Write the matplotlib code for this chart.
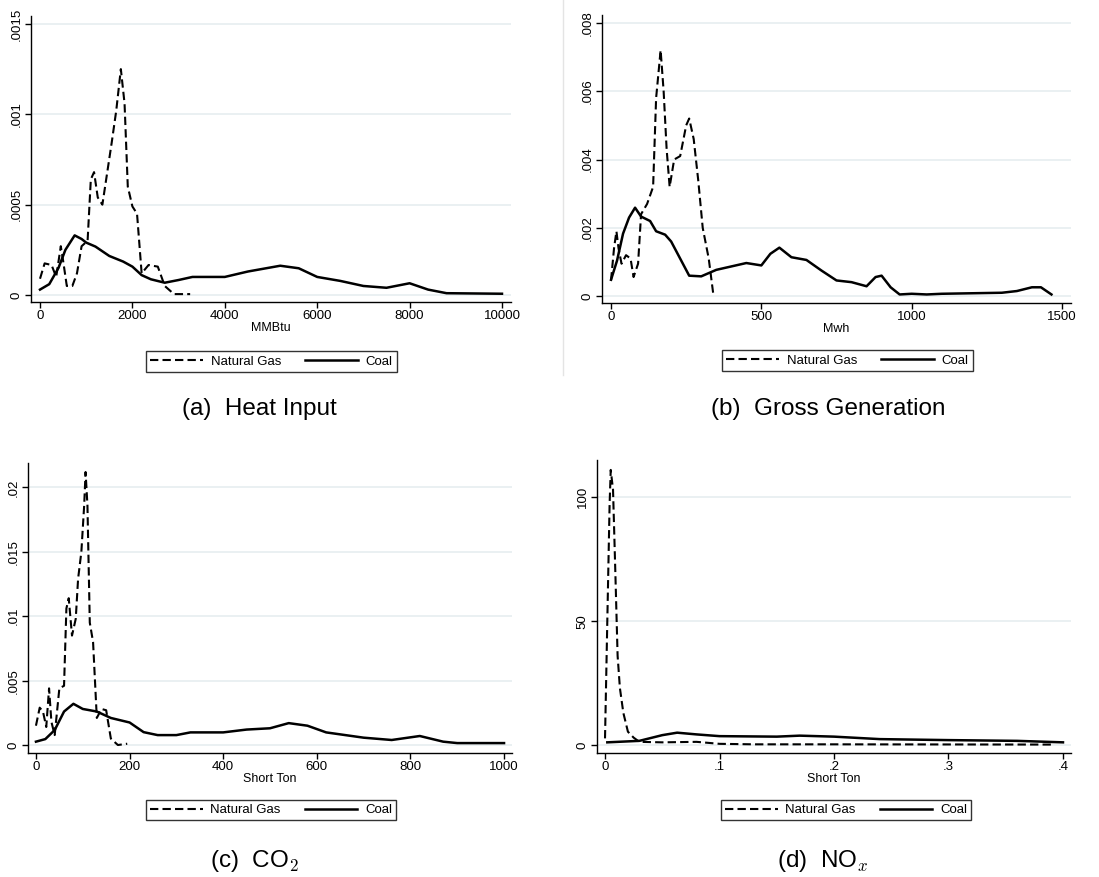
import numpy as np
import matplotlib.pyplot as plt
from matplotlib.lines import Line2D

# (a) Heat Input, MMBtu
heat_gas_x = [0, 100, 250, 350, 450, 500, 580, 700, 800, 900, 1030, 1100, 1170, 1250, 1350,
              1450, 1550, 1650, 1750, 1830, 1900, 2000, 2100, 2200, 2350, 2550, 2700, 2900, 3250]
heat_gas_y = [0.00009, 0.000175, 0.000166, 0.0001, 0.00027, 0.00019, 0.00005, 0.00005, 0.00012,
              0.00027, 0.0003, 0.00064, 0.00068, 0.00054, 0.0005, 0.00067, 0.00084, 0.00102,
              0.00125, 0.00106, 0.0006, 0.00049, 0.00045, 0.00012, 0.000166, 0.000157, 0.00005,
              0.000005, 0.000005]
heat_coal_x = [0, 200, 400, 550, 750, 900, 1000, 1200, 1500, 1800, 2000, 2200, 2400, 2700, 3000,
               3300, 4000, 4500, 5200, 5600, 6000, 6500, 7000, 7500, 8000, 8400, 8800, 10000]
heat_coal_y = [0.00003, 0.00006, 0.00015, 0.00025, 0.00033, 0.00031, 0.00029, 0.000268, 0.000216,
               0.000185, 0.000157, 0.00011, 0.000087, 0.000068, 0.000083, 0.0001, 0.0001, 0.00013,
               0.000162, 0.000148, 0.0001, 0.000078, 0.00005, 0.00004, 0.000065, 0.00003,
               0.00001, 0.000007]

# (b) Gross Generation, Mwh
gen_gas_x = [0, 10, 18, 25, 35, 50, 65, 75, 90, 100, 120, 140, 150, 165, 175, 185, 195, 210,
             230, 250, 260, 275, 290, 305, 325, 340]
gen_gas_y = [0.00046, 0.0014, 0.0019, 0.0014, 0.00095, 0.0012, 0.0011, 0.00056, 0.00095, 0.0024,
             0.0027, 0.0032, 0.0058, 0.0072, 0.006, 0.0043, 0.0032, 0.004, 0.0041, 0.005, 0.0052,
             0.0046, 0.0034, 0.002, 0.0011, 0.00007]
gen_coal_x = [0, 20, 40, 60, 80, 100, 130, 150, 180, 200, 230, 260, 300, 350, 400, 450, 500,
              530, 560, 600, 650, 700, 750, 800, 850, 880, 900, 930, 960, 1000, 1050, 1100,
              1300, 1350, 1400, 1430, 1465]
gen_coal_y = [0.00048, 0.00104, 0.00183, 0.0023, 0.00259, 0.00233, 0.0022, 0.0019, 0.0018,
              0.0016, 0.0011, 0.0006, 0.00058, 0.00077, 0.00087, 0.00097, 0.0009, 0.00124,
              0.00142, 0.00114, 0.00106, 0.00075, 0.00046, 0.00041, 0.00029, 0.00056, 0.0006,
              0.00026, 0.00005, 0.00007, 0.00005, 0.00007, 0.0001, 0.00015, 0.00026, 0.00026,
              0.00005]

# (c) CO2, Short Ton
co2_gas_x = [0, 8, 15, 22, 28, 33, 40, 50, 60, 65, 70, 77, 85, 90, 97, 103, 106, 110, 115,
             122, 130, 140, 150, 160, 175, 195]
co2_gas_y = [0.0015, 0.0029, 0.0026, 0.0014, 0.0044, 0.0018, 0.00077, 0.0044, 0.0046, 0.0106,
             0.0114, 0.0085, 0.0098, 0.0129, 0.015, 0.0186, 0.0212, 0.0186, 0.0095, 0.008,
             0.0021, 0.0028, 0.0027, 0.0005, 0.0, 0.0001]
co2_coal_x = [0, 20, 40, 60, 80, 100, 130, 160, 200, 230, 260, 300, 330, 400, 450, 500, 540,
              580, 620, 700, 760, 820, 870, 900, 1000]
co2_coal_y = [0.00026, 0.00046, 0.00116, 0.0026, 0.0032, 0.0028, 0.0026, 0.0021, 0.00175, 0.001,
              0.00077, 0.00077, 0.00098, 0.00098, 0.0012, 0.0013, 0.0017, 0.0015, 0.00098,
              0.00057, 0.00039, 0.0007, 0.00026, 0.00015, 0.00015]

# (d) NOx, Short Ton
nox_gas_x = [0, 0.002, 0.004, 0.005, 0.007, 0.009, 0.011, 0.013, 0.016, 0.02, 0.025, 0.03,
             0.05, 0.08, 0.1, 0.13, 0.2, 0.39]
nox_gas_y = [2.7, 50, 97, 111, 103, 70, 36, 23, 13, 5.4, 3, 1.3, 1.1, 1.3, 0.5, 0.3, 0.3, 0.2]
nox_coal_x = [0.002, 0.03, 0.05, 0.063, 0.08, 0.1, 0.15, 0.17, 0.2, 0.24, 0.3, 0.36, 0.4]
nox_coal_y = [1.1, 1.7, 4, 5, 4.3, 3.6, 3.4, 3.8, 3.4, 2.4, 2.0, 1.7, 1.1]

W, H = 1099, 877
fig = plt.figure(figsize=(W / 100, H / 100), dpi=100)
plt.rcParams['font.family'] = ['Liberation Sans', 'DejaVu Sans']
plt.rcParams['mathtext.fontset'] = 'cm'

grid_col = '#e6eef0'
lw = 1.5


def px(x, y):
    return x / W, 1 - y / H


panels = [
    dict(rect=(31, 16, 511, 302), gas=(heat_gas_x, heat_gas_y), coal=(heat_coal_x, heat_coal_y),
         xlim=(-195, 10195), ylim=(-0.0000387, 0.001544),
         xticks=[0, 2000, 4000, 6000, 8000, 10000], xtl=['0', '2000', '4000', '6000', '8000', '10000'],
         yticks=[0, 0.0005, 0.001, 0.0015], ytl=['0', '.0005', '.001', '.0015'],
         xlabel='MMBtu', leg=(271.5, 361.5), cap=(259, 415), captxt='(a)  Heat Input'),
    dict(rect=(602, 15, 1071, 303), gas=(gen_gas_x, gen_gas_y), coal=(gen_coal_x, gen_coal_y),
         xlim=(-30, 1530), ylim=(-0.0002, 0.00823),
         xticks=[0, 500, 1000, 1500], xtl=['0', '500', '1000', '1500'],
         yticks=[0, 0.002, 0.004, 0.006, 0.008], ytl=['0', '.002', '.004', '.006', '.008'],
         xlabel='Mwh', leg=(847.5, 360.5), cap=(828, 415), captxt='(b)  Gross Generation'),
    dict(rect=(28, 463, 512, 753), gas=(co2_gas_x, co2_gas_y), coal=(co2_coal_x, co2_coal_y),
         xlim=(-17, 1017), ylim=(-0.00062, 0.0219),
         xticks=[0, 200, 400, 600, 800, 1000], xtl=['0', '200', '400', '600', '800', '1000'],
         yticks=[0, 0.005, 0.01, 0.015, 0.02], ytl=['0', '.005', '.01', '.015', '.02'],
         xlabel='Short Ton', leg=(271, 810), cap=(254, 867), captxt='(c)  CO$_2$'),
    dict(rect=(597, 460, 1071, 753), gas=(nox_gas_x, nox_gas_y), coal=(nox_coal_x, nox_coal_y),
         xlim=(-0.007, 0.407), ylim=(-3.2, 115),
         xticks=[0, 0.1, 0.2, 0.3, 0.4], xtl=['0', '.1', '.2', '.3', '.4'],
         yticks=[0, 50, 100], ytl=['0', '50', '100'],
         xlabel='Short Ton', leg=(846, 810), cap=(823, 867), captxt='(d)  NO$_x$'),
]

for p in panels:
    x0, y0, x1, y1 = p['rect']
    ax = fig.add_axes([x0 / W, 1 - y1 / H, (x1 - x0) / W, (y1 - y0) / H])
    ax.plot(p['gas'][0], p['gas'][1], color='black', lw=lw, ls=(0, (4, 2)), label='Natural Gas')
    ax.plot(p['coal'][0], p['coal'][1], color='black', lw=lw + 0.3, ls='-', label='Coal')
    ax.set_xlim(*p['xlim'])
    ax.set_ylim(*p['ylim'])
    ax.set_xticks(p['xticks'])
    ax.set_xticklabels(p['xtl'])
    ax.set_yticks(p['yticks'])
    ax.set_yticklabels(p['ytl'], rotation=90, va='center')
    for t in p['yticks']:
        ax.axhline(t, color=grid_col, lw=1.2, zorder=0)
    for s in ['top', 'right']:
        ax.spines[s].set_visible(False)
    for s in ['left', 'bottom']:
        ax.spines[s].set_linewidth(1.0)
    ax.tick_params(direction='out', length=4, width=1.0, labelsize=9.5, colors='black', pad=2)
    ax.set_xlabel(p['xlabel'], fontsize=9, labelpad=0)
    lx, ly = px(*p['leg'])
    leg = ax.legend(loc='center', bbox_to_anchor=(lx, ly), bbox_transform=fig.transFigure,
                    ncol=2, fontsize=9.5, frameon=True, fancybox=False, handlelength=4.0,
                    columnspacing=1.8, handletextpad=0.6, borderpad=0.3, borderaxespad=0)
    leg.get_frame().set_edgecolor('black')
    leg.get_frame().set_linewidth(1.0)
    cx, cy = px(*p['cap'])
    fig.text(cx, cy, p['captxt'], ha='center', va='baseline', fontsize=17.5)

# faint border on the right-hand top panel
fig.add_artist(Line2D([563 / W, 563 / W], [1, 1 - 375 / H], transform=fig.transFigure,
                      color='#e4e4e4', lw=1))

fig.savefig('out.png', dpi=100, facecolor='white')
